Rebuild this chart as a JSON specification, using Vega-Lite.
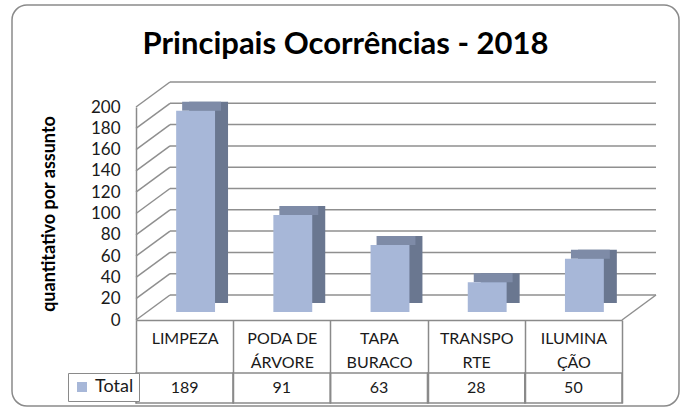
{
  "$schema": "https://vega.github.io/schema/vega-lite/v6.json",
  "width": 667,
  "height": 401,
  "autosize": "none",
  "padding": {"left": 12, "top": 5, "right": 6, "bottom": 1},
  "background": "white",
  "config": {
    "view": {"stroke": "#8a8a8a", "strokeWidth": 1.5, "cornerRadius": 15, "fill": "white"},
    "font": "Lato",
    "text": {"font": "Lato"}
  },
  "title": {
    "text": "Principais Ocorrências - 2018",
    "fontSize": 31,
    "font": "Lato",
    "fontWeight": "bold",
    "color": "#000000",
    "anchor": "middle",
    "frame": "group",
    "baseline": "alphabetic",
    "offset": -80
  },
  "datasets": {
    "ocorrencias": [
      {"assunto": "LIMPEZA", "total": 189},
      {"assunto": "PODA DE ÁRVORE", "total": 91},
      {"assunto": "TAPA BURACO", "total": 63},
      {"assunto": "TRANSPORTE", "total": 28},
      {"assunto": "ILUMINAÇÃO", "total": 50}
    ],
    "ticks": [
      {"v": 0}, {"v": 20}, {"v": 40}, {"v": 60}, {"v": 80}, {"v": 100},
      {"v": 120}, {"v": 140}, {"v": 160}, {"v": 180}, {"v": 200}
    ]
  },
  "layer": [
    {
      "layer": [
        {
          "data": {"name": "ticks"},
          "mark": {"type": "rule", "color": "#8f8f8f", "strokeWidth": 1.5, "xOffset": 34, "x2Offset": 34, "yOffset": -25},
          "encoding": {
            "x": {"datum": "LIMPEZA", "type": "nominal", "bandPosition": 0,
              "scale": {"type": "band", "domain": ["LIMPEZA", "PODA DE ÁRVORE", "TAPA BURACO", "TRANSPORTE", "ILUMINAÇÃO"], "range": [124, 610], "paddingInner": 0, "paddingOuter": 0}},
            "x2": {"datum": "ILUMINAÇÃO", "bandPosition": 1},
            "y": {"field": "v", "type": "quantitative",
              "scale": {"domain": [0, 200], "range": [315, 102], "nice": false, "zero": true},
              "axis": {
                "values": [0, 20, 40, 60, 80, 100, 120, 140, 160, 180, 200],
                "orient": "left", "offset": -124, "ticks": false, "grid": false,
                "domainColor": "#8a8a8a", "domainWidth": 1.5,
                "labelPadding": 16, "labelFontSize": 17, "labelColor": "#1a1a1a", "labelFont": "Lato",
                "title": "quantitativo por assunto", "titleFontSize": 18, "titleFontWeight": "bold",
                "titleColor": "#000000", "titleFont": "Lato", "titlePadding": 32
              }
            }
          }
        },
        {
          "data": {"name": "ticks"},
          "mark": {"type": "rule", "color": "#8f8f8f", "strokeWidth": 1.5, "x2Offset": 34, "y2Offset": -25},
          "encoding": {
            "x": {"datum": "LIMPEZA", "type": "nominal", "bandPosition": 0},
            "x2": {"datum": "LIMPEZA", "bandPosition": 0},
            "y": {"field": "v", "type": "quantitative"},
            "y2": {"field": "v"}
          }
        },
        {
          "data": {"name": "ticks"},
          "transform": [{"filter": "datum.v == 0"}],
          "mark": {"type": "rule", "color": "#8f8f8f", "strokeWidth": 1.5, "x2Offset": 34, "y2Offset": -25},
          "encoding": {
            "x": {"datum": "ILUMINAÇÃO", "type": "nominal", "bandPosition": 1},
            "x2": {"datum": "ILUMINAÇÃO", "bandPosition": 1},
            "y": {"field": "v", "type": "quantitative"},
            "y2": {"field": "v"}
          }
        },
        {
          "data": {"name": "ocorrencias"},
          "mark": {"type": "bar", "color": "#6a7790", "width": {"band": 0.4}, "xOffset": 24, "yOffset": -17, "y2Offset": -17},
          "encoding": {
            "x": {"field": "assunto", "type": "nominal", "sort": null},
            "y": {"field": "total", "type": "quantitative"}
          }
        },
        {
          "data": {"name": "ocorrencias"},
          "mark": {"type": "bar", "color": "#7e8ba7", "width": {"band": 0.4}, "xOffset": 17, "yOffset": -17, "y2Offset": -8},
          "encoding": {
            "x": {"field": "assunto", "type": "nominal", "sort": null},
            "y": {"field": "total", "type": "quantitative"},
            "y2": {"field": "total"}
          }
        },
        {
          "data": {"name": "ocorrencias"},
          "mark": {"type": "bar", "width": {"band": 0.4}, "xOffset": 11, "yOffset": -8, "y2Offset": -8},
          "encoding": {
            "x": {"field": "assunto", "type": "nominal", "sort": null,
              "axis": {
                "orient": "bottom", "offset": -86, "title": null, "labelAngle": 0, "labelAlign": "center",
                "tickBand": "extent", "tickSize": 83, "tickColor": "#8a8a8a", "tickWidth": 1.5,
                "domainColor": "#8a8a8a", "domainWidth": 1.5,
                "labelPadding": -73, "labelFontSize": 16, "labelColor": "#1a1a1a", "labelFont": "Lato",
                "labelLineHeight": 24, "labelBaseline": "top",
                "labelExpr": "length(datum.label) > 7 ? (indexof(datum.label, ' ') > 0 ? [substring(datum.label, 0, lastindexof(datum.label, ' ')), substring(datum.label, lastindexof(datum.label, ' ') + 1)] : [substring(datum.label, 0, 7), substring(datum.label, 7)]) : datum.label"
              }
            },
            "y": {"field": "total", "type": "quantitative"},
            "color": {
              "datum": "Total", "type": "nominal",
              "scale": {"range": ["#a7b7d8"]},
              "legend": {
                "orient": "none", "legendX": 56, "legendY": 368, "title": null,
                "symbolType": "square", "symbolSize": 100, "symbolStrokeWidth": 0,
                "labelFontSize": 18, "labelColor": "#1a1a1a", "labelFont": "Lato", "labelOffset": 4,
                "strokeColor": "#8a8a8a", "padding": 5, "cornerRadius": 0, "fillColor": "white"
              }
            }
          }
        }
      ]
    },
    {
      "data": {"name": "ocorrencias"},
      "encoding": {
        "x": {"field": "assunto", "type": "nominal", "sort": null},
        "y": {"datum": "Total", "type": "nominal",
          "scale": {"type": "band", "domain": ["Total"], "range": [368, 398], "paddingInner": 0, "paddingOuter": 0},
          "axis": null}
      },
      "layer": [
        {"mark": {"type": "rect", "filled": false, "stroke": "#8a8a8a", "strokeWidth": 1.5}},
        {"mark": {"type": "text", "fontSize": 16, "color": "#1a1a1a", "font": "Lato"},
          "encoding": {"text": {"field": "total", "type": "quantitative"}}}
      ]
    }
  ],
  "resolve": {"scale": {"y": "independent"}}
}
